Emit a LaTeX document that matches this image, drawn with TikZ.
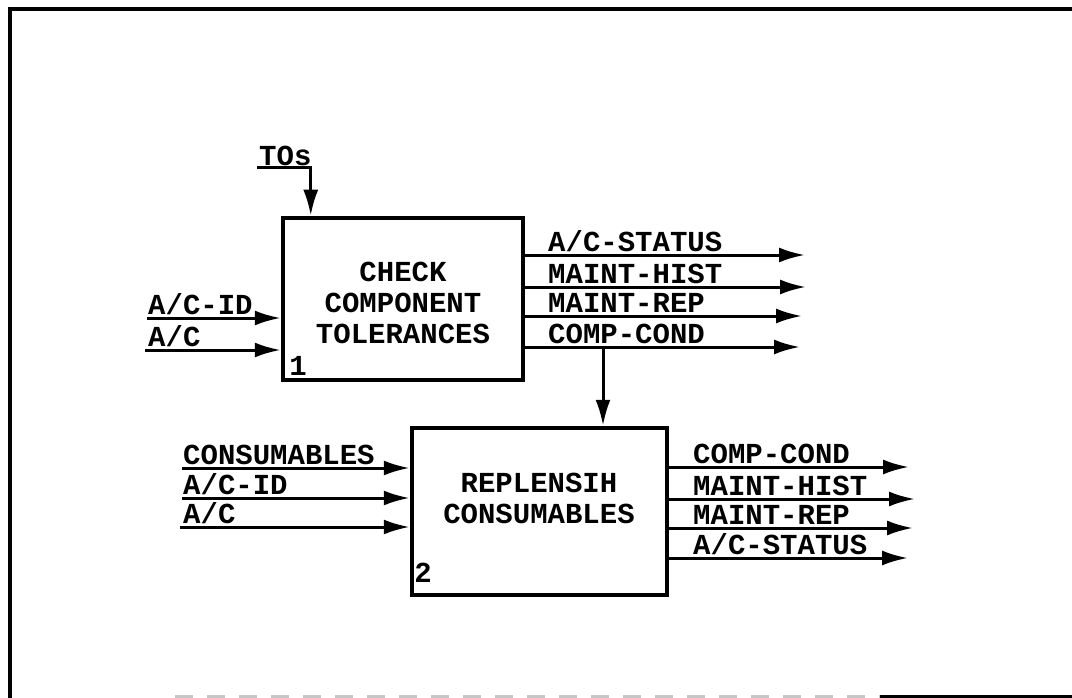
\documentclass[tikz,border=0pt]{standalone}
\usepackage{fontspec}
\setmainfont{Liberation Mono}
\usetikzlibrary{arrows.meta}
\begin{document}
\begin{tikzpicture}[x=1pt,y=1pt,
  every node/.style={font=\bfseries\fontsize{29}{31}\selectfont, inner sep=0pt},
  lbl/.style={anchor=south west},
  flow/.style={line width=3pt, -{Latex[length=26pt,width=15pt]}},
  frame/.style={line width=4pt}]
\useasboundingbox (0,0) rectangle (1072,-698);
% frame
\draw[frame] (1072,-9) -- (10,-9) -- (10,-698);
\draw[line width=3pt, gray!45, dash pattern=on 18pt off 14pt] (175,-696) -- (880,-696);
\draw[line width=3pt] (880,-696) -- (1072,-696);

% box 1
\node[draw, line width=4.5pt, minimum width=240pt, minimum height=162pt] (b1) at (403,-299) {};
\node[align=center] (t1) at (403,-303) {CHECK\\COMPONENT\\TOLERANCES};
\node (n1) at (298,-366) {1};

% box 2
\node[draw, line width=4.5pt, minimum width=255pt, minimum height=167pt] (b2) at (539.5,-511.5) {};
\node[align=center] (t2) at (539,-498) {REPLENSIH\\CONSUMABLES};
\node (n2) at (423,-573) {2};

% TOs
\node[lbl] (tos) at (259,-166) {TOs};
\coordinate (tosL) at (257,-168);
\draw[flow] (tosL) -| ([xshift=30pt]b1.north west);

% box1 inputs
\node[lbl] (i1a) at (148,-315) {A/C-ID};
\node[lbl] (i1b) at (148,-347) {A/C};
\coordinate (i1aS) at (147,-318);
\coordinate (i1bS) at (145,-350);
\draw[flow] (i1aS) -- (i1aS -| b1.west);
\draw[flow] (i1bS) -- (i1bS -| b1.west);

% box1 outputs
\coordinate (o1a) at (805,-255);
\coordinate (o1b) at (806,-287);
\coordinate (o1c) at (802,-316);
\coordinate (o1d) at (800,-347);
\draw[flow] (o1a -| b1.east) -- (o1a);
\draw[flow] (o1b -| b1.east) -- (o1b);
\draw[flow] (o1c -| b1.east) -- (o1c);
\draw[flow] (o1d -| b1.east) -- (o1d);
\node[lbl] (l1a) at (548,-252) {A/C-STATUS};
\node[lbl] (l1b) at (548,-284) {MAINT-HIST};
\node[lbl] (l1c) at (548,-313) {MAINT-REP};
\node[lbl] (l1d) at (548,-344) {COMP-COND};

% connector box1 -> box2
\coordinate (dn) at (603,-347);
\draw[flow] (dn) -- (dn |- b2.north);

% box2 inputs
\node[lbl] (i2a) at (183,-465) {CONSUMABLES};
\node[lbl] (i2b) at (183,-495) {A/C-ID};
\node[lbl] (i2c) at (183,-524) {A/C};
\coordinate (i2aS) at (182,-468);
\coordinate (i2bS) at (182,-498);
\coordinate (i2cS) at (180,-527);
\draw[flow] (i2aS) -- (i2aS -| b2.west);
\draw[flow] (i2bS) -- (i2bS -| b2.west);
\draw[flow] (i2cS) -- (i2cS -| b2.west);

% box2 outputs
\coordinate (o2a) at (909,-467);
\coordinate (o2b) at (915,-499);
\coordinate (o2c) at (913,-528);
\coordinate (o2d) at (908,-558);
\draw[flow] (o2a -| b2.east) -- (o2a);
\draw[flow] (o2b -| b2.east) -- (o2b);
\draw[flow] (o2c -| b2.east) -- (o2c);
\draw[flow] (o2d -| b2.east) -- (o2d);
\node[lbl] (l2a) at (693,-464) {COMP-COND};
\node[lbl] (l2b) at (693,-496) {MAINT-HIST};
\node[lbl] (l2c) at (693,-525) {MAINT-REP};
\node[lbl] (l2d) at (693,-555) {A/C-STATUS};
\end{tikzpicture}
\end{document}
